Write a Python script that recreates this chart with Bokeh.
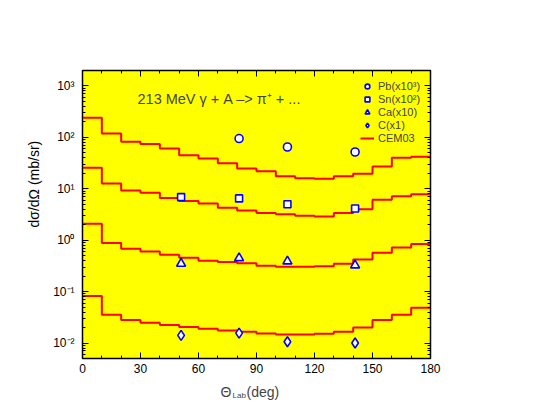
from bokeh.plotting import figure
from bokeh.models import (FixedTicker, LinearAxis, LogAxis, Legend, LegendItem,
                          Label, CustomJSTickFormatter, Range1d, Title)
from bokeh.embed import file_html
from bokeh.resources import INLINE

# ---- data ----
bin_edges = list(range(0, 190, 10))  # 0..180 deg, 10-deg bins
cem_pb = [240, 119, 82, 74, 61, 45, 39, 31.5, 24.7, 22, 17.5, 16, 15.7, 17.5, 19.6, 27, 40, 42]
cem_sn = [25.7, 12.7, 9.3, 8.4, 6.6, 5.8, 5.2, 4.3, 3.8, 3.4, 3.2, 3.0, 2.9, 3.4, 4.0, 6.1, 7.2, 7.8]
cem_ca = [2.09, 0.88, 0.68, 0.60, 0.52, 0.456, 0.40, 0.375, 0.358, 0.32, 0.305, 0.305, 0.31, 0.35, 0.42, 0.57, 0.72, 0.84]
cem_c = [0.082, 0.0355, 0.028, 0.0248, 0.0223, 0.0204, 0.019, 0.0176, 0.0166, 0.0154, 0.0147, 0.0147, 0.0151, 0.0166, 0.020, 0.028, 0.0355, 0.0486]

exp_angle_pb = [81, 106, 141]
exp_pb = [95, 65, 52]
exp_angle = [51, 81, 106, 141]
exp_sn = [6.9, 6.5, 5.0, 4.15]
exp_ca = [0.35, 0.45, 0.39, 0.325]
exp_c = [0.0141, 0.0156, 0.0106, 0.0100]

x_ticks = [0, 30, 60, 90, 120, 150, 180]
x_minor = list(range(0, 181, 10))
y_ticks = [1e-2, 1e-1, 1e0, 1e1, 1e2, 1e3]
y_minor = [m * 10.0 ** e for e in range(-3, 4) for m in range(2, 10)]

legend_labels = ["Pb(x10\u00b3)", "Sn(x10\u00b2)", "Ca(x10)", "C(x1)", "CEM03"]
title_text = "213 MeV \u03b3 + A \u2013> \u03c0\u207a + ..."
y_title = "d\u03c3/d\u03a9 (mb/sr)"

FONT = "Liberation Sans"

p = figure(frame_width=348, frame_height=288,
           x_range=Range1d(0, 180), y_range=Range1d(0.005, 2000),
           y_axis_type="log", output_backend="svg", toolbar_location=None,
           min_border_left=82, min_border_top=70, min_border_right=90,
           min_border_bottom=40,
           background_fill_color="#ffff00", border_fill_color="white")
p.xgrid.visible = False
p.ygrid.visible = False
p.outline_line_color = "black"
p.outline_line_width = 1.5

xt = FixedTicker(ticks=x_ticks, minor_ticks=x_minor)
yt = FixedTicker(ticks=y_ticks, minor_ticks=y_minor)

yfmt = CustomJSTickFormatter(code="""
const e = Math.round(Math.log10(tick));
const m = {'-':'\u207b','0':'\u2070','1':'\u00b9','2':'\u00b2','3':'\u00b3','4':'\u2074','5':'\u2075','6':'\u2076','7':'\u2077','8':'\u2078','9':'\u2079'};
return '10' + String(e).split('').map(c => m[c]).join('');
""")
blank = CustomJSTickFormatter(code="return '';")

def style_axis(ax):
    ax.major_tick_in = 6
    ax.major_tick_out = 0
    ax.minor_tick_in = 3
    ax.minor_tick_out = 0
    ax.axis_line_color = "black"
    ax.major_tick_line_color = "black"
    ax.minor_tick_line_color = "black"
    ax.major_label_text_font = FONT
    ax.major_label_text_color = "black"
    ax.major_label_text_font_size = "12px"

p.xaxis.ticker = xt
p.yaxis.ticker = yt
p.yaxis.formatter = yfmt
for ax in p.xaxis:
    style_axis(ax)
    ax.major_label_standoff = 5
for ax in p.yaxis:
    style_axis(ax)
    ax.major_label_standoff = 8

top = LinearAxis(ticker=xt, formatter=blank)
style_axis(top)
top.major_label_standoff = 0
p.add_layout(top, "above")
right = LogAxis(ticker=yt, formatter=blank)
style_axis(right)
right.major_label_standoff = 0
p.add_layout(right, "right")

# ---- histograms (CEM03) ----
hist_renderers = []
for vals in (cem_pb, cem_sn, cem_ca, cem_c):
    r = p.step(x=bin_edges, y=vals + [vals[-1]], mode="after",
               line_color="#ff0000", line_width=2)
    hist_renderers.append(r)

# ---- experimental points ----
mk = dict(line_color="#0000ff", fill_color="white", line_width=1.6)
r_pb = p.scatter(exp_angle_pb, exp_pb, marker="circle", size=8, **mk)
r_sn = p.scatter(exp_angle, exp_sn, marker="square", size=7, **mk)
r_ca = p.scatter(exp_angle, exp_ca, marker="triangle", size=9, **mk)
r_c = p.scatter(exp_angle, exp_c, marker="diamond", size=10, **mk)

legend = Legend(items=[
    LegendItem(label=legend_labels[0], renderers=[r_pb]),
    LegendItem(label=legend_labels[1], renderers=[r_sn]),
    LegendItem(label=legend_labels[2], renderers=[r_ca]),
    LegendItem(label=legend_labels[3], renderers=[r_c]),
    LegendItem(label=legend_labels[4], renderers=[hist_renderers[0]]),
], location=(278, 214), padding=0, margin=0, spacing=1,
    glyph_width=14, glyph_height=12, label_height=12, label_standoff=4,
    label_text_font=FONT, label_text_font_size="11px",
    background_fill_alpha=0, border_line_alpha=0)
p.add_layout(legend)

# ---- texts ----
p.add_layout(Label(x=55, y=260, x_units="screen", y_units="screen",
                   text=title_text, text_font=FONT, text_font_size="14.5px",
                   text_baseline="alphabetic"))

yt_title = Title(text=y_title, align="left", offset=131, standoff=17,
                 text_font=FONT, text_font_size="14px",
                 text_font_style="normal", text_color="black")
p.add_layout(yt_title, "left")

# x-axis title: Theta with subscript "Lab", then "(deg)" (side-panel labels)
for txt, xx, yy, fs in (("\u0398", 138, 0, "14px"),
                        ("Lab", 150, 5, "8px"),
                        ("(deg)", 164, 25, "14px")):
    p.add_layout(Label(x=xx, y=yy, x_units="screen", y_units="screen",
                       text=txt, text_font=FONT, text_font_size=fs,
                       text_baseline="alphabetic"), "below")

open("out.html", "w").write(file_html(p, INLINE))
